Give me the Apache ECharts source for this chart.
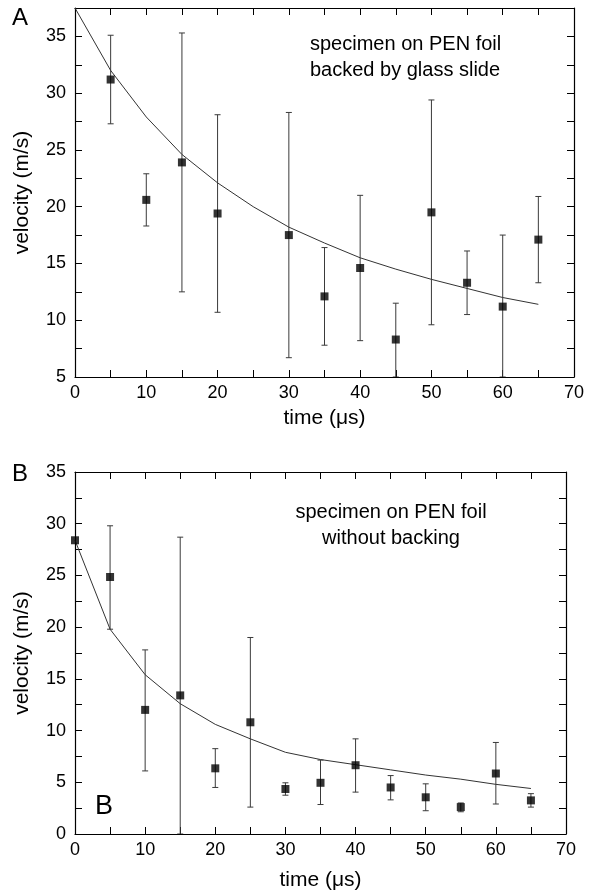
<!DOCTYPE html>
<html>
<head>
<meta charset="utf-8">
<script src="https://cdn.jsdelivr.net/npm/echarts@6/dist/echarts.min.js"></script>
<style>html,body{margin:0;padding:0;background:#fff}#c{width:594px;height:892px}</style>
</head>
<body>
<div id="c"></div>
<script>
// Panel A: specimen on PEN foil backed by glass slide
var timeA = [5, 10, 15, 20, 30, 35, 40, 45, 50, 55, 60, 65];
var velA = [31.2, 20.6, 23.9, 19.4, 17.5, 12.1, 14.6, 8.3, 19.5, 13.3, 11.2, 17.1];
var errLoA = [27.3, 18.3, 12.5, 10.7, 6.7, 7.8, 8.2, 5.0, 9.6, 10.5, 5.0, 13.3];
var errHiA = [35.1, 22.9, 35.3, 28.1, 28.3, 16.4, 21.0, 11.5, 29.4, 16.1, 17.5, 20.9];
var fitTimeA = [0, 5, 10, 15, 20, 25, 30, 35, 40, 45, 50, 55, 60, 65];
var fitA = [37.5, 32.0, 27.9, 24.6, 22.1, 20.0, 18.2, 16.8, 15.5, 14.5, 13.6, 12.8, 12.0, 11.4];

// Panel B: specimen on PEN foil without backing
var timeB = [0, 5, 10, 15, 20, 25, 30, 35, 40, 45, 50, 55, 60, 65];
var velB = [28.4, 24.85, 12.0, 13.4, 6.35, 10.8, 4.35, 4.95, 6.65, 4.5, 3.55, 2.6, 5.85, 3.25];
var errLoB = [28.4, 19.8, 6.1, 0, 4.5, 2.6, 3.75, 2.85, 4.05, 3.3, 2.25, 2.15, 2.9, 2.6];
var errHiB = [28.4, 29.8, 17.8, 28.7, 8.25, 19.0, 4.95, 7.15, 9.2, 5.65, 4.85, 3.0, 8.85, 3.9];
var fitTimeB = [0, 5, 10, 15, 20, 25, 30, 35, 40, 45, 50, 55, 60, 65];
var fitB = [28.4, 19.8, 15.4, 12.6, 10.6, 9.2, 7.9, 7.2, 6.7, 6.2, 5.7, 5.3, 4.8, 4.4];

var xTicks = [0, 10, 20, 30, 40, 50, 60, 70];
var yTicksA = [5, 10, 15, 20, 25, 30, 35];
var yTicksB = [0, 5, 10, 15, 20, 25, 30, 35];

var FONT = "'Liberation Sans', Arial, Helvetica, sans-serif";

function zip(a, b) { return a.map(function (v, i) { return [v, b[i]]; }); }
function zip3(a, b, c) { return a.map(function (v, i) { return [v, b[i], c[i]]; }); }

function errRender(params, api) {
  var x = api.value(0), lo = api.value(1), hi = api.value(2);
  if (lo === hi) return null;
  var pH = api.coord([x, hi]);
  var pL = api.coord([x, lo]);
  var w = 3;
  var st = { stroke: '#3a3a3a', lineWidth: 1 };
  return {
    type: 'group',
    children: [
      { type: 'line', shape: { x1: pH[0], y1: pH[1], x2: pL[0], y2: pL[1] }, style: st },
      { type: 'line', shape: { x1: pH[0] - w, y1: pH[1], x2: pH[0] + w, y2: pH[1] }, style: st },
      { type: 'line', shape: { x1: pL[0] - w, y1: pL[1], x2: pL[0] + w, y2: pL[1] }, style: st }
    ]
  };
}

function xAxisDef(grid, pos, labels, nameGap) {
  return {
    type: 'value', gridIndex: grid, position: pos, min: 0, max: 70, interval: 5,
    name: labels ? 'time (μs)' : '', nameLocation: 'middle', nameGap: nameGap,
    nameTextStyle: { fontFamily: FONT, fontSize: 21, color: '#000' },
    axisLine: { show: true, onZero: false, lineStyle: { color: '#000', width: 1.2 } },
    axisTick: { show: true, inside: true, length: 7, lineStyle: { color: '#000', width: 1 } },
    axisLabel: {
      show: labels, margin: 7, fontFamily: FONT, fontSize: 18, color: '#000',
      formatter: function (v) { return xTicks.indexOf(v) >= 0 ? String(v) : ''; }
    },
    splitLine: { show: false }
  };
}

function yAxisDef(grid, pos, labels, min, max, ticks) {
  return {
    type: 'value', gridIndex: grid, position: pos, min: min, max: max, interval: 2.5,
    name: labels ? 'velocity (m/s)' : '', nameLocation: 'middle', nameGap: 42,
    nameTextStyle: { fontFamily: FONT, fontSize: 21, color: '#000' },
    axisLine: { show: true, onZero: false, lineStyle: { color: '#000', width: 1.2 } },
    axisTick: { show: true, inside: true, length: 7, lineStyle: { color: '#000', width: 1 } },
    axisLabel: {
      show: labels, margin: 9, fontFamily: FONT, fontSize: 18, color: '#000',
      formatter: function (v) { return ticks.indexOf(v) >= 0 ? String(v) : ''; }
    },
    splitLine: { show: false }
  };
}

var chart = echarts.init(document.getElementById('c'), null, { renderer: 'canvas' });
chart.setOption({
  backgroundColor: '#fff',
  animation: false,
  grid: [
    { left: 75, top: 8, width: 499, height: 369 },
    { left: 75, top: 472, width: 491, height: 362 }
  ],
  xAxis: [
    xAxisDef(0, 'bottom', true, 31),
    xAxisDef(0, 'top', false, 0),
    xAxisDef(1, 'bottom', true, 36),
    xAxisDef(1, 'top', false, 0)
  ],
  yAxis: [
    yAxisDef(0, 'left', true, 5, 37.5, yTicksA),
    yAxisDef(0, 'right', false, 5, 37.5, yTicksA),
    yAxisDef(1, 'left', true, 0, 35, yTicksB),
    yAxisDef(1, 'right', false, 0, 35, yTicksB)
  ],
  series: [
    { type: 'custom', xAxisIndex: 0, yAxisIndex: 0, renderItem: errRender, data: zip3(timeA, errLoA, errHiA), z: 2, clip: true },
    { type: 'line', xAxisIndex: 0, yAxisIndex: 0, data: zip(fitTimeA, fitA), showSymbol: false, symbol: 'none',
      lineStyle: { color: '#333', width: 1 }, z: 3 },
    { type: 'scatter', xAxisIndex: 0, yAxisIndex: 0, data: zip(timeA, velA), symbol: 'rect', symbolSize: 8,
      itemStyle: { color: '#000' }, z: 4 },
    { type: 'custom', xAxisIndex: 2, yAxisIndex: 2, renderItem: errRender, data: zip3(timeB, errLoB, errHiB), z: 2, clip: true },
    { type: 'line', xAxisIndex: 2, yAxisIndex: 2, data: zip(fitTimeB, fitB), showSymbol: false, symbol: 'none',
      lineStyle: { color: '#333', width: 1 }, z: 3 },
    { type: 'scatter', xAxisIndex: 2, yAxisIndex: 2, data: zip(timeB, velB), symbol: 'rect', symbolSize: 8,
      itemStyle: { color: '#000' }, z: 4 }
  ],
  graphic: [
    { type: 'text', left: 12, top: 6, style: { text: 'A', font: '24px ' + FONT, fill: '#000' } },
    { type: 'text', left: 12, top: 462, style: { text: 'B', font: '24px ' + FONT, fill: '#000' } },
    { type: 'text', left: 95, top: 793, style: { text: 'B', font: '27px ' + FONT, fill: '#000' } },
    { type: 'text', left: 310, top: 31, style: { text: 'specimen on PEN foil\nbacked by glass slide', font: '20px ' + FONT, fill: '#000', lineHeight: 26 } },
    { type: 'text', x: 391, y: 499, style: { text: 'specimen on PEN foil\nwithout backing', font: '20px ' + FONT, fill: '#000', lineHeight: 26, textAlign: 'center' } }
  ]
});
</script>
</body>
</html>
